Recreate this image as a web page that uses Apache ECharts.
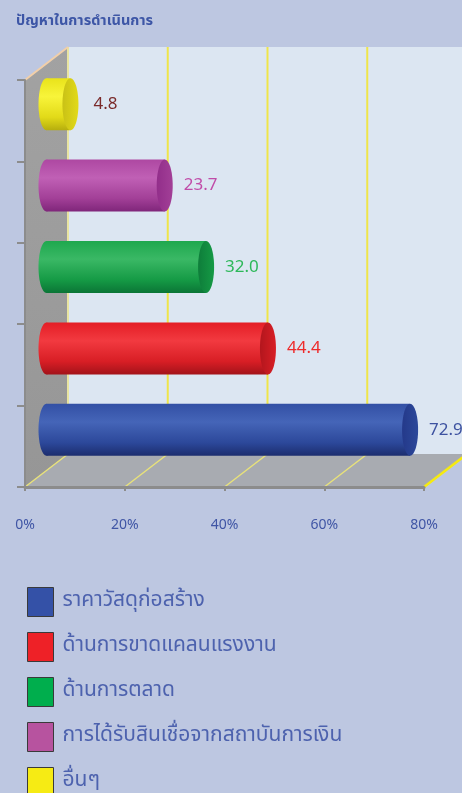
<!DOCTYPE html>
<html><head><meta charset="utf-8">
<script src="https://cdn.jsdelivr.net/npm/echarts@6/dist/echarts.min.js"></script>
<style>html,body{margin:0;padding:0;background:#BDC7E1;}#c{width:462px;height:793px;}</style>
</head><body><div id="c"></div>
<script>
// ---- data ----
const title = 'ปัญหาในการดำเนินการ';
const categories = ['ราคาวัสดุก่อสร้าง', 'ด้านการขาดแคลนแรงงาน', 'ด้านการตลาด', 'การได้รับสินเชื่อจากสถาบันการเงิน', 'อื่นๆ'];
const values = [72.9, 44.4, 32.0, 23.7, 4.8];
const valueLabels = ['72.9', '44.4', '32.0', '23.7', '4.8'];
const xTicks = [0, 20, 40, 60, 80];

// ---- style ----
const legendColors = ['#3451A7', '#EE2127', '#00AE4D', '#B7539F', '#F6EB14'];
const barShades = [
  ['#3350A5', '#4565B8', '#2C489A', '#1C2D6E', '#24398A'],
  ['#E41D25', '#F23A40', '#D81E25', '#A3131A', '#B3161D'],
  ['#1EA84E', '#3AB865', '#159A45', '#0B7536', '#0E7D3A'],
  ['#AE48A2', '#C060B5', '#A23F97', '#7F267A', '#922E8A'],
  ['#E9E31A', '#F8F43A', '#E2DA18', '#B6AE0E', '#C9C116']
];
const labelColors = ['#3D52A0', '#EE2A2A', '#2DB85A', '#C04CA8', '#7A2A2A'];
const DX = 43, DY = -33, BAR_H = 52, CAP_RX = 8;

function grad(c) {
  return new echarts.graphic.LinearGradient(0, 0, 0, 1, [
    {offset: 0, color: c[0]}, {offset: 0.35, color: c[1]},
    {offset: 0.75, color: c[2]}, {offset: 1, color: c[3]}
  ]);
}

function renderBackground(params, api) {
  const band = api.size([0, 1])[1];
  const yb = api.coord([0, 0])[1] + band / 2;
  const yt = api.coord([0, categories.length - 1])[1] - band / 2;
  const xs = xTicks.map(v => api.coord([v, 0])[0]);
  const x0 = xs[0], xN = xs[xs.length - 1];
  const ch = [];
  ch.push({type: 'rect', shape: {x: x0 + DX, y: yt + DY, width: xN - x0 + 10, height: yb - yt}, style: {fill: '#DCE6F2'}});
  ch.push({type: 'polygon', shape: {points: [[x0, yt], [x0 + DX, yt + DY], [x0 + DX, yb + DY], [x0, yb]]},
    style: {fill: new echarts.graphic.LinearGradient(0, 0, 0, 1, [{offset: 0, color: '#A2A2A2'}, {offset: 1, color: '#969696'}])}});
  ch.push({type: 'polygon', shape: {points: [[x0, yb], [xN, yb], [xN + DX, yb + DY], [x0 + DX, yb + DY]]}, style: {fill: '#A8ABB1'}});
  xs.forEach((x, i) => {
    ch.push({type: 'line', shape: {x1: x + DX, y1: yt + DY, x2: x + DX, y2: yb + DY}, style: {stroke: i === 0 ? '#E8E4A0' : '#EFE54A', lineWidth: 2}});
    ch.push({type: 'line', shape: {x1: x, y1: yb, x2: x + DX, y2: yb + DY}, style: {stroke: i === xs.length - 1 ? '#F5EA10' : '#E8E27A', lineWidth: i === xs.length - 1 ? 2.5 : 1.5}});
  });
  ch.push({type: 'line', shape: {x1: x0, y1: yt, x2: x0 + DX, y2: yt + DY}, style: {stroke: '#F2CFA8', lineWidth: 2}});
  return {type: 'group', children: ch};
}

function makeRender(idx) {
  return function (params, api) {
    const v = api.value(0), c = api.value(1);
    const p0 = api.coord([0, c]);
    const p1 = api.coord([v, c]);
    const xa = p0[0] + DX / 2, xb = p1[0] + DX / 2;
    const yc = p0[1] + DY / 2;
    const top = yc - BAR_H / 2;
    const sh = barShades[idx];
    const g = grad(sh);
    return {type: 'group', children: [
      {type: 'ellipse', shape: {cx: xa, cy: yc, rx: CAP_RX, ry: BAR_H / 2}, style: {fill: g}},
      {type: 'rect', shape: {x: xa, y: top, width: xb - xa, height: BAR_H}, style: {fill: g}},
      {type: 'ellipse', shape: {cx: xb, cy: yc, rx: CAP_RX, ry: BAR_H / 2},
        style: {fill: new echarts.graphic.LinearGradient(0, 0, 1, 0, [{offset: 0, color: sh[4]}, {offset: 1, color: sh[2]}])}},
      {type: 'text', x: xb + CAP_RX + (idx === 4 ? 15 : 11), y: yc,
        style: {text: valueLabels[idx], fill: labelColors[idx], fontSize: 17, fontFamily: 'Noto Sans', verticalAlign: 'middle', align: 'left'}}
    ]};
  };
}

const series = [{
  type: 'custom', name: '__bg', z: 1, silent: true,
  renderItem: renderBackground, data: [[0, 0]]
}];
categories.forEach((name, i) => {
  series.push({
    type: 'custom', name: name, z: 3, clip: false,
    itemStyle: {color: legendColors[i]},
    renderItem: makeRender(i),
    encode: {x: 0, y: 1},
    data: [[values[i], i]]
  });
});

const chart = echarts.init(document.getElementById('c'), null, {renderer: 'canvas'});
chart.setOption({
  backgroundColor: '#BDC7E1',
  animation: false,
  title: {text: title, left: 11, top: 10,
    textStyle: {color: '#3D56A6', fontSize: 14.5, fontWeight: 'bold', fontFamily: 'Noto Sans Thai, Noto Sans, sans-serif'}},
  grid: {left: 25, right: 38, top: 80, bottom: 306, containLabel: false},
  xAxis: {
    type: 'value', min: 0, max: 80, interval: 20, z: 5,
    axisLine: {show: true, lineStyle: {color: '#8C8C8C', width: 3}},
    axisTick: {show: true, length: 4, lineStyle: {color: '#8C8C8C', width: 2}},
    splitLine: {show: false},
    axisLabel: {formatter: '{value}%', color: '#3F55A5', fontSize: 14, margin: 31, fontFamily: 'Noto Sans'}
  },
  yAxis: {
    type: 'category', data: categories, z: 5,
    axisLine: {show: true, lineStyle: {color: '#8C8C8C', width: 2}},
    axisTick: {show: true, length: 8, lineStyle: {color: '#8C8C8C', width: 2}},
    axisLabel: {show: false},
    splitLine: {show: false}
  },
  legend: {
    data: categories, orient: 'vertical', left: 27, top: 587, padding: 0, height: 210,
    itemWidth: 26, itemHeight: 29, itemGap: 15, icon: 'rect',
    itemStyle: {borderColor: '#3A3A3A', borderWidth: 1},
    textStyle: {color: '#4D62AE', fontSize: 21, padding: [0, 0, 0, 4], fontFamily: 'Noto Sans Thai, Noto Sans, sans-serif'},
    selectedMode: false
  },
  series: series
});
</script></body></html>
